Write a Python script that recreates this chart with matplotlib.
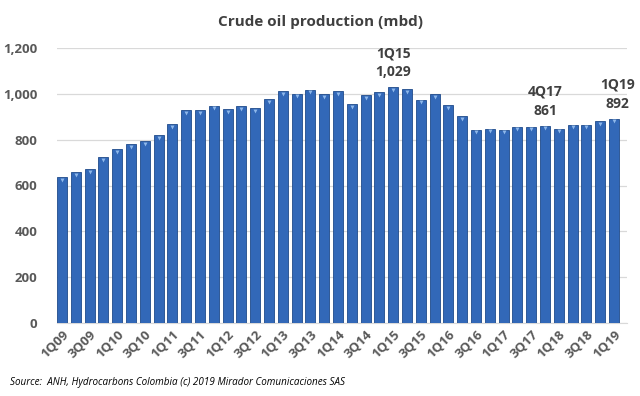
import numpy as np
import matplotlib.pyplot as plt

plt.rcParams['font.family'] = ['Open Sans', 'DejaVu Sans']

years = ["09", "10", "11", "12", "13", "14", "15", "16", "17", "18", "19"]
quarters = [f"{q}Q{y}" for y in years for q in range(1, 5)][:41]

production = [635, 657, 670, 724, 758, 780, 793, 819, 867, 928,
              928, 949, 933, 945, 937, 977, 1012, 1001, 1018, 1000,
              1013, 956, 993, 1006, 1029, 1022, 975, 1000, 952, 904,
              844, 848, 844, 857, 857, 861, 848, 866, 866, 882,
              892]

callouts = {"1Q15": "1Q15\n1,029", "4Q17": "4Q17\n861", "1Q19": "1Q19\n892"}

fig = plt.figure(figsize=(6.4, 3.96), dpi=100)
ax = fig.add_axes([57/640, 1 - 323/396, 570/640, 275/396])

x = np.arange(len(quarters))
ax.bar(x, production, width=0.72, color="#3268b8", edgecolor="#1f4a8a",
       linewidth=0.6, zorder=3)
# light cap on top of each bar, like the excel bevel
ax.scatter(x, np.array(production) - 12, marker="v", s=8, color="#8fb8ea",
           zorder=4, linewidths=0)

ax.set_xlim(-0.36, 40.94)
ax.set_ylim(0, 1200)
ax.set_yticks(range(0, 1201, 200))
ax.set_yticklabels([f"{v:,}" for v in range(0, 1201, 200)])
ax.yaxis.grid(True, color="#d9d9d9", linewidth=0.9, zorder=0)
ax.set_xticks(x[::2])
ax.set_xticklabels(quarters[::2], rotation=45, ha="right",
                   rotation_mode="anchor")
for s in ax.spines.values():
    s.set_visible(False)
ax.spines["bottom"].set_visible(True)
ax.spines["bottom"].set_color("#d9d9d9")
ax.tick_params(length=0, colors="#595959", labelsize=9.5)
ax.tick_params(axis="y", pad=14)
for t in ax.get_xticklabels() + ax.get_yticklabels():
    t.set_fontweight("bold")

for q, txt in callouts.items():
    i = quarters.index(q)
    dx = 0.25 if q == "1Q19" else 0
    ax.text(i + dx, production[i] + 35, txt, ha="center", va="bottom",
            fontsize=10, fontweight="bold", color="#404040",
            linespacing=1.45)

fig.text(0.5, 1 - 22/396, "Crude oil production (mbd)", ha="center",
         va="center", fontsize=11, fontweight="bold", color="#404040")
fig.text(10/640, 1 - 382/396,
         "Source:  ANH, Hydrocarbons Colombia (c) 2019 Mirador Comunicaciones SAS",
         ha="left", va="center", fontsize=7.1, style="italic", color="#000000")

fig.savefig("out.png", dpi=100)
